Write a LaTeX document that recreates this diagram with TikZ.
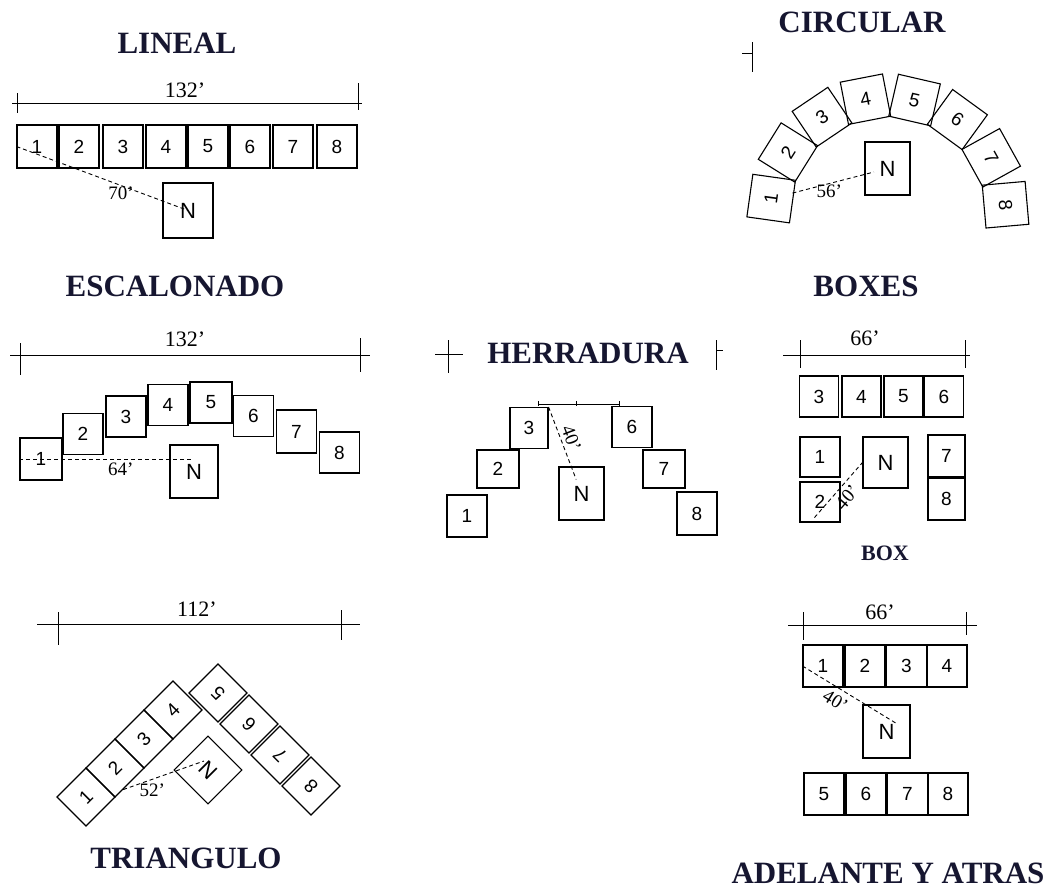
\documentclass[tikz,border=0pt]{standalone}
\usepackage{fontspec}
\setmainfont{Liberation Serif}
\newfontfamily\handfont{Liberation Sans}
\usetikzlibrary{calc}
\definecolor{titlecol}{RGB}{22,22,48}
\begin{document}
\begin{tikzpicture}[x=1pt,y=-1pt,
 title/.style={font=\fontsize{31}{34}\selectfont\bfseries, text=titlecol, inner sep=0},
 box/.style={draw, line width=1.1pt, minimum width=40pt, minimum height=41pt, inner sep=0, font=\handfont\fontsize{19}{19}\selectfont},
 nbox/.style={box, minimum width=47pt, minimum height=53pt, font=\handfont\fontsize{22}{22}\selectfont},
 dimline/.style={line width=1pt},
 meas/.style={line width=0.9pt, dash pattern=on 4pt off 3pt},
 dimlabel/.style={font=\fontsize{22}{22}\selectfont, inner sep=0},
 measlabel/.style={font=\fontsize{19}{19}\selectfont, inner sep=0.5pt},
]
\useasboundingbox (0,0) rectangle (1054,892);

% ---------- titles
\node[title] (tLin) at (177,43) {LINEAL};
\node[title] (tCir) at (862,22) {CIRCULAR};
\node[title] (tEsc) at (175,286) {ESCALONADO};
\node[title] (tBxs) at (866,286) {BOXES};
\node[title] (tHer) at (588,353) {HERRADURA};
\node[title, font=\fontsize{22}{24}\selectfont\bfseries] (tBox) at (885,553) {BOX};
\node[title] (tTri) at (186,858) {TRIANGULO};
\node[title] (tAde) at (888,873) {ADELANTE Y ATRAS};

% ---------- LINEAL
\draw[dimline] (12,103) -- (362,103);
\draw[dimline] (17,93) -- (17,113);
\draw[dimline] (358,83) -- (358,110);
\node[dimlabel] (dLin) at (185,90) {132'};
\foreach \i/\x in {1/37,2/79,3/123,4/166,5/208,6/250,7/293,8/337}
  \node[box, minimum height=43pt] (L\i) at (\x,146.5) {\i};
\node[nbox, minimum width=50pt, minimum height=55pt] (LN) at (188,210.5) {N};
\draw[meas] (L1.west) -- (LN.center) node[measlabel, pos=0.61, below=0pt] {70'};

% ---------- CIRCULAR
\draw[dimline] (742,53) -- (752,53);
\draw[dimline] (752,42) -- (752,72);
\foreach \i/\a in {1/172,2/148,3/124,4/101,5/77,6/54,7/29,8/5}
  \node[box, minimum width=43pt, minimum height=43pt, rotate={\a-90}] (C\i) at ({888+118*cos(\a)},{215-118*sin(\a)}) {\i};
\node[nbox, minimum width=45pt] (CN) at (887.5,168.5) {N};
\draw[meas, shorten <=22pt, shorten >=14pt] (C1.center) -- (CN.center) node[measlabel, pos=0.5, below=0pt] {56'};

% ---------- ESCALONADO
\draw[dimline] (10,355) -- (370,355);
\draw[dimline] (20,343) -- (20,375);
\draw[dimline] (360,338) -- (360,372);
\node[dimlabel] (dEsc) at (185,339) {132'};
\node[box, minimum width=42pt, minimum height=42pt] (E1) at (41,459) {1};
\node[box] (E2) at (83,434) {2};
\node[box] (E3) at (126,416.5) {3};
\node[box] (E4) at (168,405) {4};
\node[box, minimum width=42pt] (E5) at (211,402.5) {5};
\node[box] (E6) at (253.5,416) {6};
\node[box, minimum height=43pt] (E7) at (296.5,431.5) {7};
\node[box] (E8) at (339.5,452.5) {8};
\node[nbox, minimum width=48pt] (EN) at (194,471.5) {N};
\draw[meas] (E1.west) -- (E1.west -| EN.center) node[measlabel, pos=0.58, below=3pt] {64'};

% ---------- HERRADURA
\draw[dimline] (435,354) -- (463,354);
\draw[dimline] (448,340) -- (448,373);
\draw[dimline] (716,340) -- (716,370);
\draw[dimline] (716,350) -- (723,350);
\node[box, minimum height=42pt] (H1) at (467,516) {1};
\node[box, minimum width=42pt, minimum height=38pt] (H2) at (498,469) {2};
\node[box, minimum width=38pt] (H3) at (529,428) {3};
\node[box] (H6) at (632,427) {6};
\node[box, minimum width=42pt, minimum height=38pt] (H7) at (664,469) {7};
\node[box, minimum height=43pt] (H8) at (697,513.5) {8};
\node[nbox, minimum width=45pt] (HN) at (581.5,493.5) {N};
\coordinate (hA) at ($(H3.north east)+(-10,-3)$);
\coordinate (hB) at ($(H6.north west)+(8,-2)$);
\draw[line width=0.9pt] (hA) -- (hB);
\draw[line width=0.9pt] (hA) ++(0,-3) -- ++(0,5);
\draw[line width=0.9pt] ($(hA)!0.47!(hB)$) ++(0,-3) -- ++(0,5);
\draw[line width=0.9pt] (hB) ++(0,-3) -- ++(0,5);
\draw[meas, shorten >=15pt] (H3.north east) -- (HN.center) node[measlabel, pos=0.4, sloped, above=3pt] {40'};

% ---------- BOXES
\draw[dimline] (783,355) -- (970,355);
\draw[dimline] (800,340) -- (800,368);
\draw[dimline] (965,340) -- (965,368);
\node[dimlabel] (dBxs) at (865,338) {66'};
\foreach \i/\x in {3/819,4/861.5,5/903.5,6/944}
  \node[box, minimum width=39pt] (B\i) at (\x,396.5) {\i};
\node[box, minimum height=40pt] (B1) at (820,457) {1};
\node[box, minimum height=40pt] (B2) at (820,502) {2};
\node[nbox, minimum width=45pt, minimum height=51pt] (BN) at (885.5,462.5) {N};
\node[box, minimum width=37pt, minimum height=42pt] (B7) at (946.5,456) {7};
\node[box, minimum width=37pt, minimum height=42pt] (B8) at (946.5,499) {8};
\draw[meas] ($(B2.south west)+(15,-5)$) -- (BN.west) node[measlabel, pos=0.5, sloped, below=4pt] {40'};

% ---------- BOX / ADELANTE Y ATRAS
\draw[dimline] (788,625) -- (977,625);
\draw[dimline] (803,612) -- (803,640);
\draw[dimline] (966,612) -- (966,635);
\node[dimlabel] (dAde) at (880,612) {66'};
\foreach \i/\x in {1/823,2/865,3/906.5,4/947}
  \node[box, minimum height=42pt] (A\i) at (\x,666) {\i};
\foreach \i/\x in {5/824,6/866,7/907.5,8/948}
  \node[box, minimum height=42pt] (A\i) at (\x,794) {\i};
\node[nbox] (AN) at (886.5,731.5) {N};
\draw[meas] (A1.west) -- ($(AN.center)+(10,-8)$) node[measlabel, pos=0.42, sloped, below=5pt] {40'};

% ---------- TRIANGULO
\draw[dimline] (37,624) -- (360,624);
\draw[dimline] (58,612) -- (58,645);
\draw[dimline] (341,610) -- (341,640);
\node[dimlabel] (dTri) at (197,609) {112'};
\foreach \i/\x/\y in {1/86/797,2/115/768,3/144/739,4/173/710}
  \node[box, minimum width=41pt, minimum height=41pt, rotate=45] (T\i) at (\x,\y) {\i};
\foreach \i/\x/\y in {5/218/693,6/249/724,7/280/755,8/311/786}
  \node[box, minimum width=41pt, minimum height=41pt, rotate=135] (T\i) at (\x,\y) {\i};
\node[nbox, minimum width=48pt, minimum height=48pt, rotate=135] (TN) at (208,770) {N};
\draw[meas] ($(T2.south west)!0.55!(T2.south)$) -- ($(TN.center)+(-4,-9)$) node[measlabel, pos=0.36, below=4pt] {52'};
\end{tikzpicture}
\end{document}
